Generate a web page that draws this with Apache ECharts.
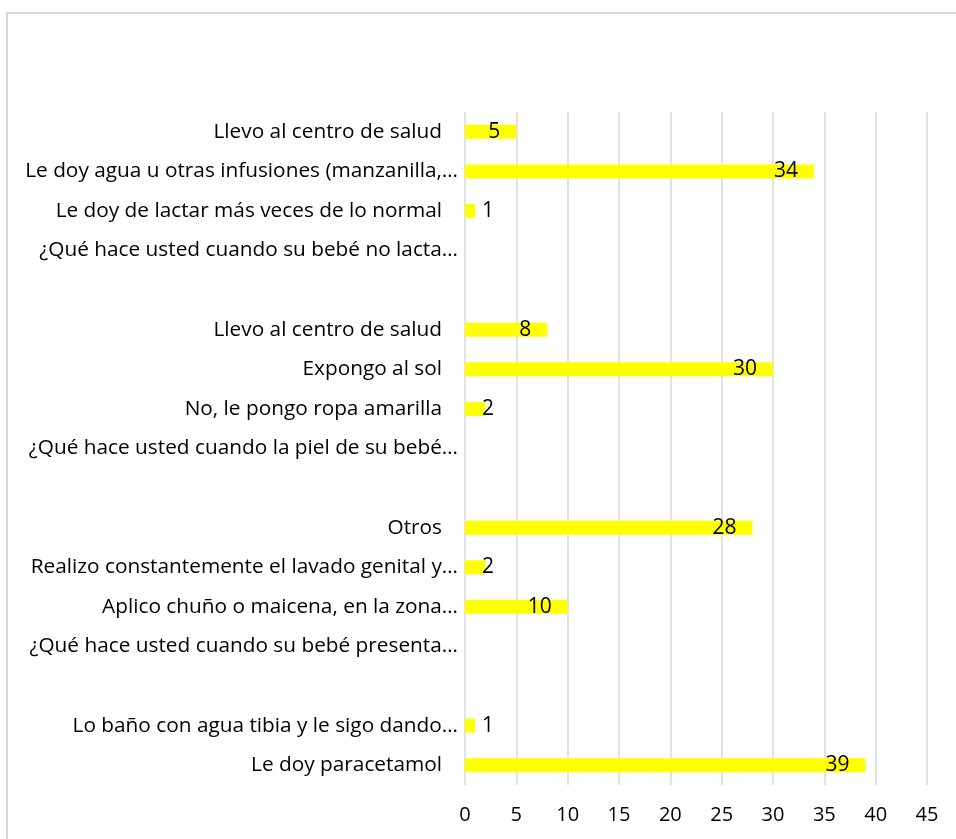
<!DOCTYPE html>
<html>
<head>
<meta charset="utf-8">
<script src="https://cdn.jsdelivr.net/npm/echarts@6/dist/echarts.min.js"></script>
<style>
  html, body { margin: 0; padding: 0; background: #fff; }
  #chart { width: 956px; height: 839px; }
</style>
</head>
<body>
<div id="chart"></div>
<script>
// categories listed bottom -> top, as the category axis draws them
var categories = [
  'Le doy paracetamol',
  'Lo baño con agua tibia y le sigo dando…',
  '',
  '¿Qué hace usted cuando su bebé presenta…',
  'Aplico chuño o maicena, en la zona…',
  'Realizo constantemente el lavado genital y…',
  'Otros',
  '',
  '¿Qué hace usted cuando la piel de su bebé…',
  'No, le pongo ropa amarilla',
  'Expongo al sol',
  'Llevo al centro de salud',
  '',
  '¿Qué hace usted cuando su bebé no lacta…',
  'Le doy de lactar más veces de lo normal',
  'Le doy agua u otras infusiones (manzanilla,…',
  'Llevo al centro de salud'
];
var values = [39, 1, null, null, 10, 2, 28, null, null, 2, 30, 8, null, null, 1, 34, 5];
var xTicks = [0, 5, 10, 15, 20, 25, 30, 35, 40, 45];

var chart = echarts.init(document.getElementById('chart'));

var barData = values.map(function (v) {
  if (v == null) return '-';
  // short bars: label sits just past the bar start, like Excel does
  if (v < 3) {
    return { value: v, label: { position: 'insideLeft', distance: 17 } };
  }
  return v;
});

chart.setOption({
  animation: false,
  graphic: [{
    type: 'rect',
    shape: { x: 7, y: 13, width: 980, height: 880 },
    style: { fill: 'none', stroke: '#d9d9d9', lineWidth: 2 },
    silent: true
  }],
  grid: {
    left: 465,
    right: 29,
    top: 112,
    bottom: 54
  },
  xAxis: {
    type: 'value',
    min: xTicks[0],
    max: xTicks[xTicks.length - 1],
    interval: 5,
    axisLine: { show: false },
    axisTick: { show: false },
    splitLine: {
      lineStyle: { color: '#d9d9d9', width: 1.5 }
    },
    axisLabel: {
      margin: 20,
      color: '#000',
      fontFamily: 'Open Sans',
      fontSize: 20
    }
  },
  yAxis: {
    type: 'category',
    data: categories,
    axisLine: { show: false },
    axisTick: { show: false },
    axisLabel: {
      interval: 0,
      margin: 7,
      formatter: function (val) {
        if (!val) return '';
        return /…$/.test(val) ? '{cut|' + val + '}' : '{full|' + val + '}';
      },
      rich: {
        cut: { color: '#000', fontFamily: 'Open Sans', fontSize: 20.8 },
        full: { color: '#000', fontFamily: 'Open Sans', fontSize: 20.8, padding: [0, 16, 0, 0] }
      }
    }
  },
  series: [{
    type: 'bar',
    data: barData,
    barWidth: 14,
    itemStyle: { color: '#ffff00' },
    label: {
      show: true,
      position: 'insideRight',
      distance: 16,
      color: '#000',
      fontFamily: 'Open Sans',
      fontSize: 21
    }
  }]
});
</script>
</body>
</html>
